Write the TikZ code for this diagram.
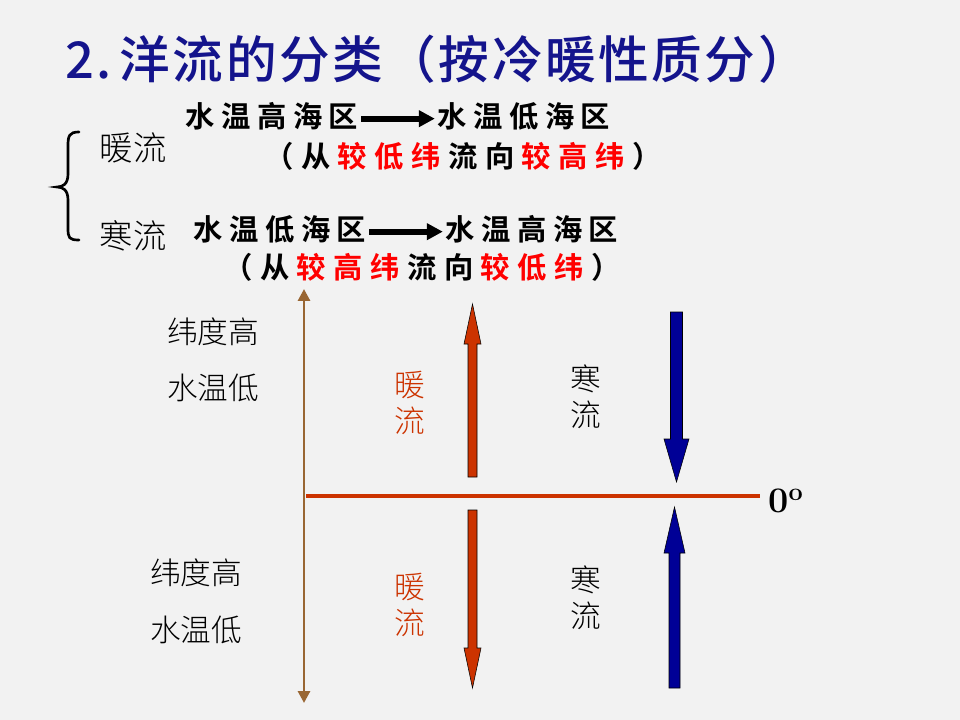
\documentclass[tikz,border=0pt]{standalone}
\usepackage{fontspec}
\usetikzlibrary{arrows.meta}
\newfontfamily\titre[LetterSpace=5]{Noto Sans CJK SC Medium}
\newfontfamily\fin{Noto Sans CJK SC Light}
\newfontfamily\gras[LetterSpace=22]{Noto Sans CJK SC Bold}
\newfontfamily\grasl{Noto Sans CJK SC Bold}
\newcommand{\esp}{\hspace{5.6pt}}
\definecolor{bleutitre}{RGB}{20,20,140}
\definecolor{chaud}{RGB}{204,51,0}
\definecolor{froid}{RGB}{0,0,150}
\definecolor{brun}{RGB}{153,102,51}
\definecolor{fond}{RGB}{242,242,242}
\tikzset{
  ligne/.style={font=\gras\fontsize{22pt}{26pt}\selectfont, inner sep=2pt},
  paren/.style={font=\grasl\fontsize{22pt}{26pt}\selectfont, inner sep=2pt},
  fleche/.style={line width=4.5pt, -{Triangle[length=12pt,width=12pt]}},
  etiq/.style={font=\fin\fontsize{23pt}{27pt}\selectfont, align=center, inner sep=0pt},
  chaudbloc/.style={fill=chaud, draw=black, line width=0.4pt},
  froidbloc/.style={fill=froid, draw=black, line width=0.4pt}
}
\begin{document}
\begin{tikzpicture}[x=0.75pt, y=-0.75pt]
    \fill[fond] (0,0) rectangle (960,720);

    % Titre
    \node[anchor=base west, inner sep=0pt, text=bleutitre, font=\titre\fontsize{38pt}{44pt}\selectfont] (titre) at (65,79) {2.\hspace{6pt}洋流的分类（按冷暖性质分）};

    % Accolade
    \draw[line width=2pt, line cap=round] (79,132) .. controls (69,132) and (68,136) .. (68,146) -- (68,174)
        .. controls (68,184) and (63,187) .. (57,187) .. controls (63,187) and (68,190) .. (68,200)
        -- (68,228) .. controls (68,238) and (69,240) .. (79,240);
    \node[etiq, font=\fin\fontsize{25pt}{29pt}\selectfont] (nuan) at (133,148) {暖流};
    \node[etiq, font=\fin\fontsize{25pt}{29pt}\selectfont] (han) at (133,236) {寒流};

    % Courant chaud
    \node[ligne] (w1) at (272,116) {水温高海区};
    \node[ligne] (w2) at (524,116) {水温低海区};
    \draw[fleche] ([yshift=-2pt]w1.east) -- ([yshift=-2pt]w2.west);
    \node[paren] (w3) at (463,156) {（\esp 从\esp{\color{red}较\esp 低\esp 纬}\esp 流\esp 向\esp{\color{red}较\esp 高\esp 纬}\esp）};

    % Courant froid
    \node[ligne] (c1) at (280,229) {水温低海区};
    \node[ligne] (c2) at (532,229) {水温高海区};
    \draw[fleche] ([yshift=-2pt]c1.east) -- ([yshift=-2pt]c2.west);
    \node[paren] (c3) at (422,267) {（\esp 从\esp{\color{red}较\esp 高\esp 纬}\esp 流\esp 向\esp{\color{red}较\esp 低\esp 纬}\esp）};

    % Axe et equateur
    \coordinate (haut) at (304,289);
    \coordinate (bas) at (304,703);
    \draw[brun, line width=2.2pt, {Triangle[length=9pt,width=9pt]}-{Triangle[length=9pt,width=9pt]}] (haut) -- (bas);
    \coordinate (o) at (306,496);
    \coordinate (e) at (760,496);
    \draw[chaud, line width=3pt] (o) -- (e);
    \node[anchor=west, inner sep=0pt, font=\bfseries\fontsize{27pt}{30pt}\selectfont] (zero) at (768,501) {0\textsuperscript{o}};

    % Fleches chaudes
    \filldraw[chaudbloc] (468,477) -- (468,344) -- (464,344) -- (472.5,304) -- (481,344) -- (477,344) -- (477,477) -- cycle;
    \filldraw[chaudbloc] (468,510) -- (468,648) -- (464,648) -- (472.5,688) -- (481,648) -- (477,648) -- (477,510) -- cycle;

    % Fleches froides
    \filldraw[froidbloc] (670.5,312) -- (670.5,439) -- (664,439) -- (676.5,482) -- (689,439) -- (682.5,439) -- (682.5,312) -- cycle;
    \filldraw[froidbloc] (669,688) -- (669,553) -- (664,553) -- (674.5,507) -- (685,553) -- (680,553) -- (680,688) -- cycle;

    % Etiquettes
    \node[etiq] (lat1) at (213,332) {纬度高};
    \node[etiq] (tmp1) at (213,388) {水温低};
    \node[etiq] (lat2) at (196,573) {纬度高};
    \node[etiq] (tmp2) at (196,630) {水温低};
    \node[etiq, text=chaud] (nl1) at (410,403) {暖\\流};
    \node[etiq, text=chaud] (nl2) at (410,605) {暖\\流};
    \node[etiq] (hl1) at (586,397) {寒\\流};
    \node[etiq] (hl2) at (586,598) {寒\\流};
\end{tikzpicture}
\end{document}
